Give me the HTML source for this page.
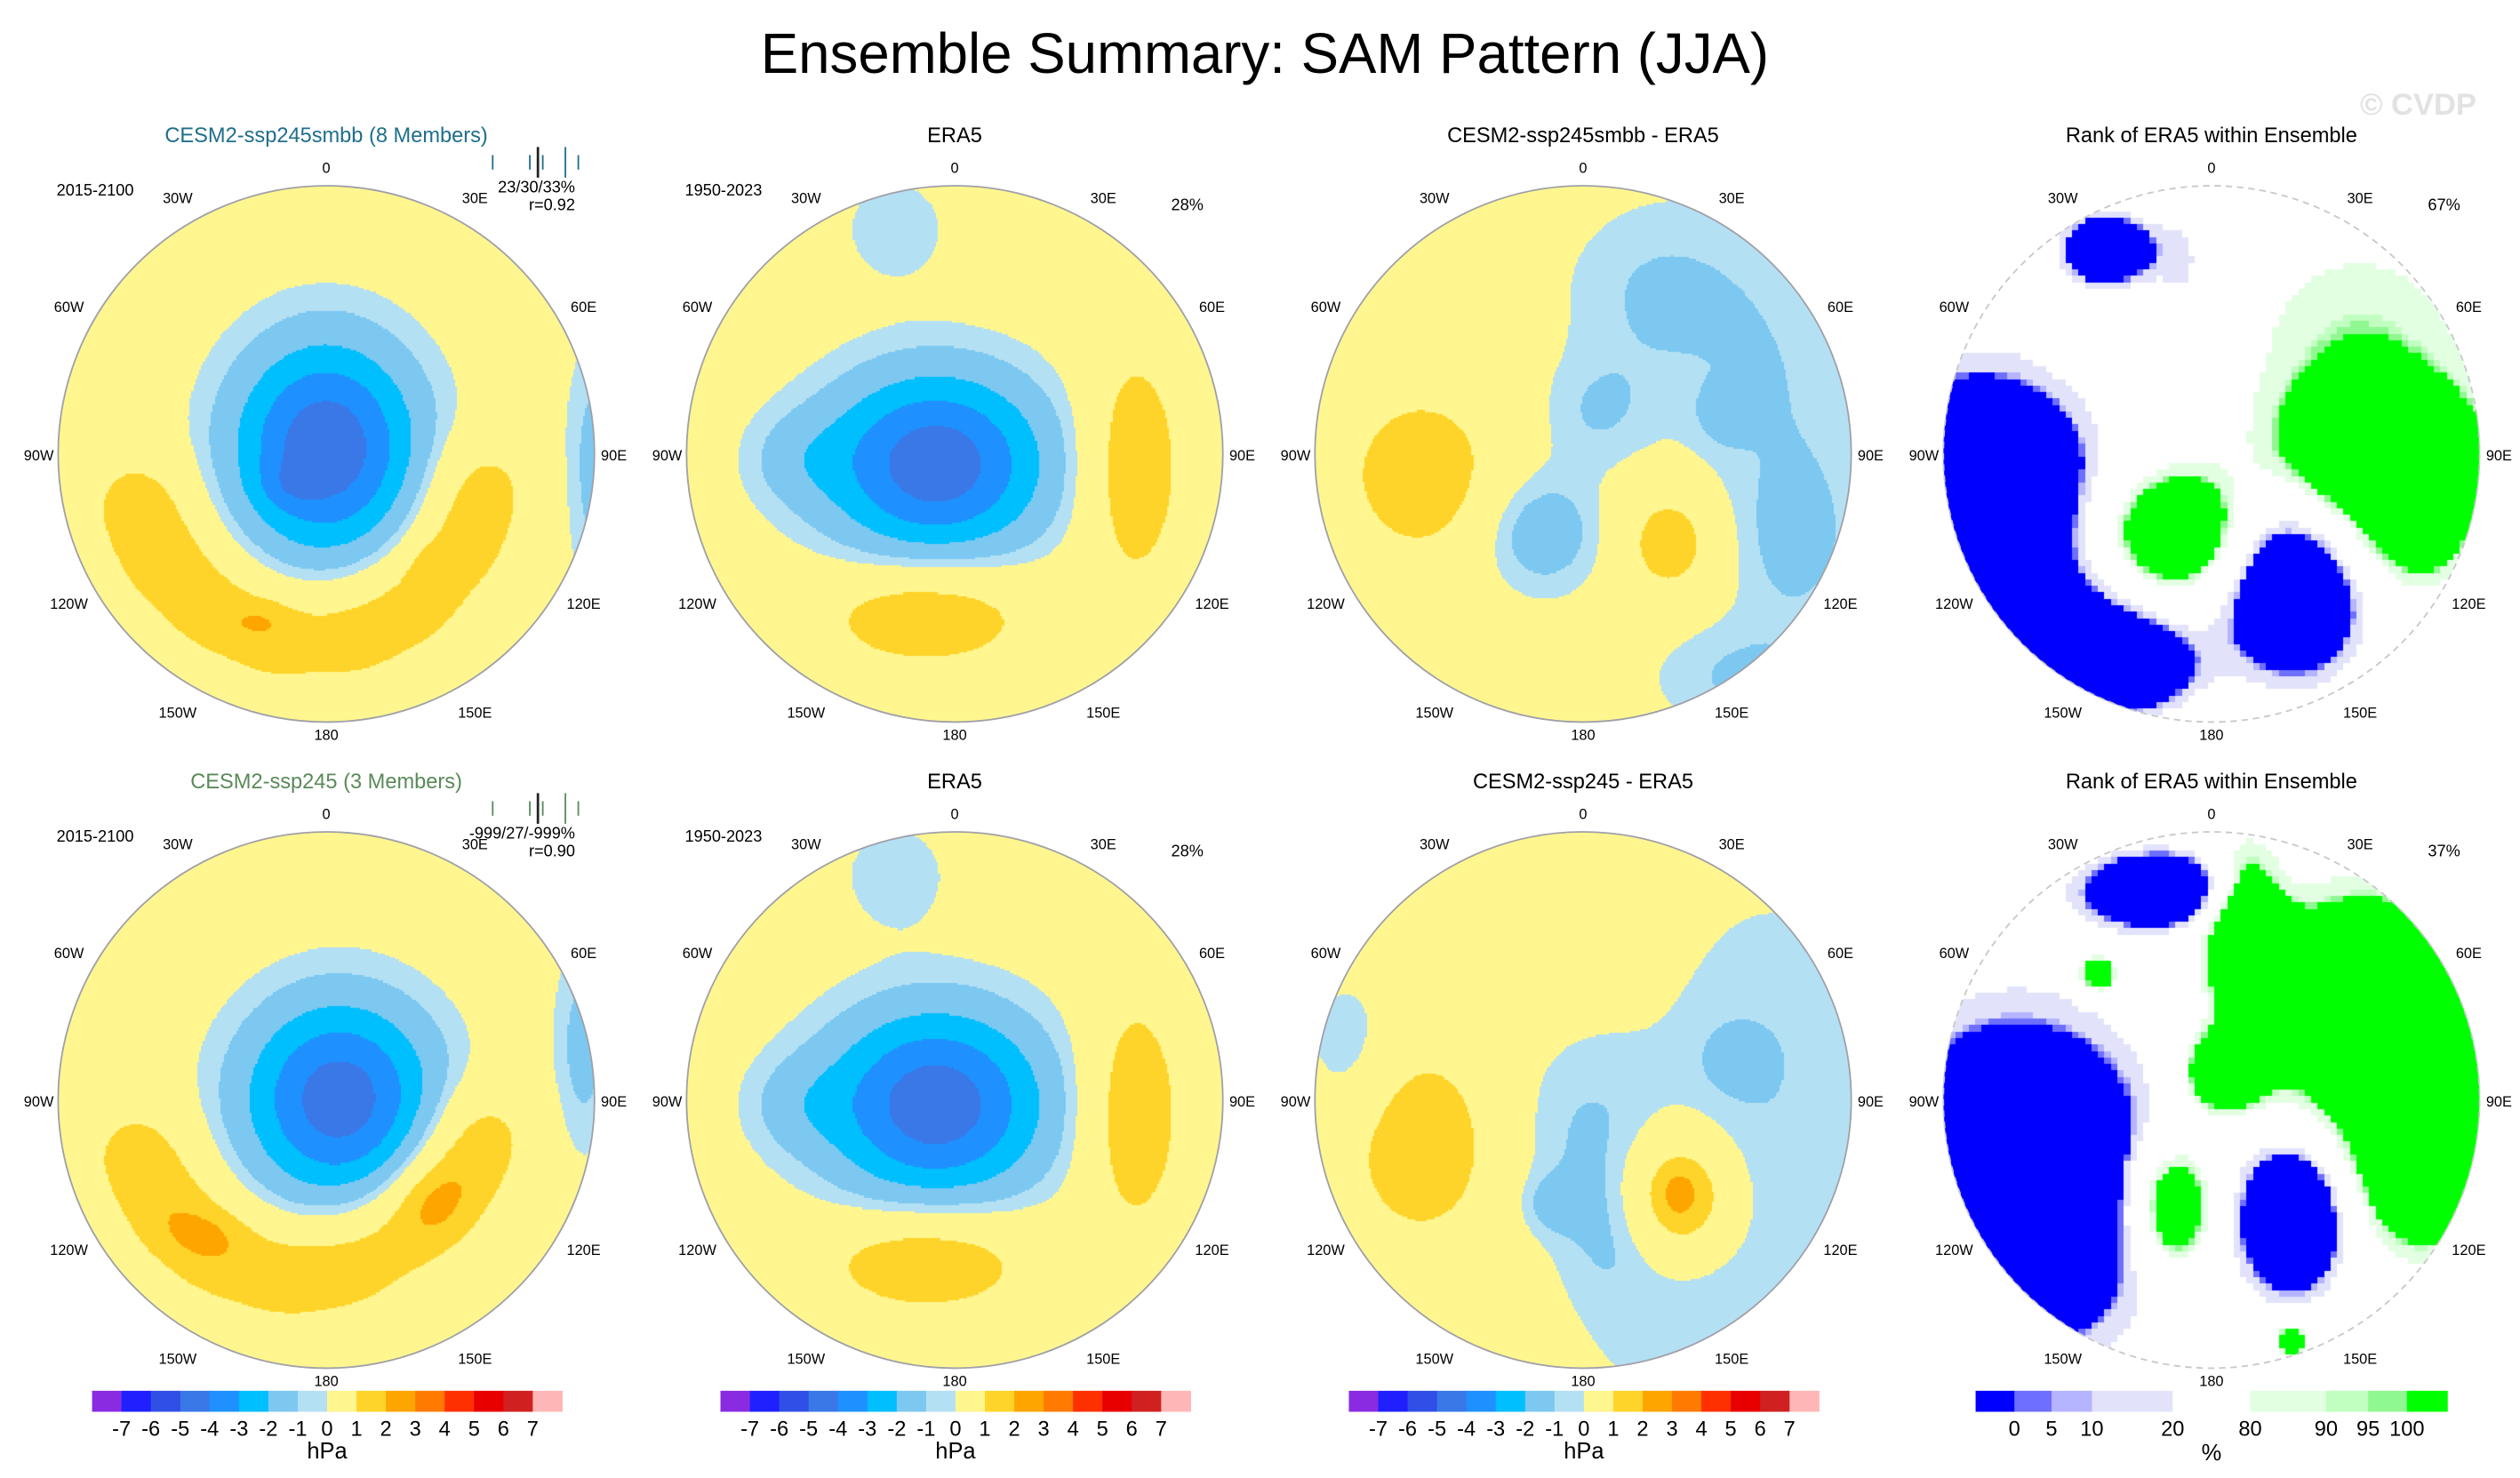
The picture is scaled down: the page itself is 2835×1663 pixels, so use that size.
<!DOCTYPE html>
<html><head><meta charset="utf-8">
<style>
html,body{margin:0;padding:0;background:#fff;}
#wrap{position:relative;width:2835px;height:1663px;overflow:hidden;}
canvas,svg{position:absolute;left:0;top:0;}
text{font-family:"Liberation Sans",sans-serif;}
</style></head>
<body>
<div id="wrap">
<canvas id="cv" width="2835" height="1663"></canvas>
<svg id="sv" width="2835" height="1663" viewBox="0 0 1560 915" preserveAspectRatio="none">
<text x="783" y="45" font-size="35" text-anchor="middle">Ensemble Summary: SAM Pattern (JJA)</text>
<text x="1497" y="71" font-size="19" font-weight="bold" fill="#e2e2e2" text-anchor="middle">© CVDP</text>
</svg>
</div>
<script>
// ---- data ----
const hpaLevels = [-7,-6,-5,-4,-3,-2,-1,0,1,2,3,4,5,6,7];
const contourEdges = [-7,-6,-5,-4,-3,-2,-1,-0.5,1,2,3,4,5,6,7];
const hpaColors = ["#8a2be2","#2020ff","#2f4fe6","#3a78e8","#1e90ff","#00bfff","#7cc8f0","#b4e0f4","#fff68f","#ffd42a","#ffa500","#ff7a00","#ff3000","#e80000","#d02020","#ffb6b6"];
const rankLabels = ["0","5","10","20","80","90","95","100"];
const rankBounds = [0,24,47,72,122,170,217,243,267,292];
const rankColors = ["#0000ff","#6e6eff","#b4b4ff","#e2e2fa","#ffffff","#e2ffe2","#c0ffc0","#90f890","#00ff00"];
const rankThresh = [-1.2,-1.15,-1.1,-0.8,0.8,1.1,1.15,1.2];
const panelCenterX = [202,591,980,1369];
const panelCenterY = [281,681];
const panelRadius = 166;
const panelTitles = [["CESM2-ssp245smbb (8 Members)","ERA5","CESM2-ssp245smbb - ERA5","Rank of ERA5 within Ensemble"],["CESM2-ssp245 (3 Members)","ERA5","CESM2-ssp245 - ERA5","Rank of ERA5 within Ensemble"]];
const titleColors = [["#1f6e8c","#000","#000","#000"],["#5a8a5a","#000","#000","#000"]];
// blobs: [dx, dy, sx, sy, amp] in radius units
const fieldP1 = [[0.0,-0.02,0.25,0.29,-4.8],[-0.14,0.12,0.08,0.06,-0.6],
 [-0.7,0.18,0.14,0.14,1.35],[-0.6,0.4,0.14,0.14,1.35],[-0.42,0.58,0.14,0.14,1.35],[-0.18,0.69,0.14,0.14,1.35],[0.1,0.68,0.14,0.14,1.35],[0.33,0.56,0.14,0.14,1.35],[0.5,0.35,0.14,0.14,1.35],[0.58,0.12,0.14,0.14,1.35],
 [-0.24,0.62,0.08,0.05,0.6],[0.38,0.45,0.05,0.08,0.6],[1.0,0.05,0.08,0.35,-1.3]];
const fieldP2 = [[-0.07,0.04,0.3,0.25,-4.7],[-0.6,0.02,0.14,0.13,-0.8],[-0.22,-0.84,0.14,0.14,-0.95],[0.67,0.05,0.13,0.32,1.9],[-0.1,0.6,0.28,0.14,2.05],[-0.14,0.58,0.03,0.03,0.3]];
const fieldP3 = [[0.75,-0.2,0.3,0.55,-0.95],[0.25,-0.6,0.25,0.25,-0.95],[0.05,-0.15,0.15,0.15,-0.9],[0.53,-0.14,0.08,0.08,-0.7],[-0.15,0.3,0.16,0.16,-1.6],[0.33,0.33,0.13,0.15,1.8],[-0.6,0.08,0.2,0.22,1.8],[0.6,0.84,0.25,0.15,-1.0],[0.8,0.35,0.15,0.2,-0.8]];
const fieldP4 = [[-0.39,-0.76,0.11,0.09,-3],[-0.85,0.14,0.3,0.32,-3],[0.31,0.48,0.19,0.25,-3],[-0.35,0.8,0.19,0.12,-3],[0.62,0.05,0.3,0.22,3],[-0.14,0.3,0.18,0.16,3],[0.55,-0.5,0.38,0.3,1.0],[0.75,0.35,0.15,0.15,1.0],[-0.5,0.6,0.25,0.15,-1.0],[-0.1,-0.7,0.1,0.2,-1.0]];
const fieldP5 = [[0.05,0.0,0.26,0.27,-4.6],
 [-0.7,0.2,0.14,0.14,1.35],[-0.58,0.42,0.14,0.14,1.35],[-0.4,0.58,0.14,0.14,1.35],[-0.15,0.66,0.14,0.14,1.35],[0.1,0.62,0.14,0.14,1.35],[0.32,0.48,0.14,0.14,1.35],[0.48,0.3,0.14,0.14,1.35],[0.58,0.12,0.14,0.14,1.35],
 [-0.45,0.5,0.1,0.06,0.6],[0.4,0.38,0.1,0.1,0.9],[0.96,-0.2,0.08,0.3,-1.3]];
const fieldP6 = [[-0.07,0.02,0.3,0.26,-4.7],[-0.6,0.02,0.14,0.13,-0.8],[-0.22,-0.84,0.14,0.14,-0.95],[0.67,0.05,0.13,0.32,1.9],[-0.1,0.6,0.28,0.14,2.05],[-0.14,0.58,0.03,0.03,0.3]];
const fieldP7 = [[0.7,0.1,0.35,0.7,-0.95],[-0.87,-0.19,0.12,0.2,-0.95],[0.0,0.1,0.2,0.25,-0.9],[0.1,0.5,0.15,0.2,-0.9],[-0.12,0.39,0.08,0.08,-0.9],[0.36,0.36,0.14,0.16,2.7],[0.36,0.35,0.04,0.05,0.9],[-0.6,0.17,0.2,0.26,1.8],[0.57,-0.16,0.1,0.1,-0.6],[0.4,0.9,0.3,0.2,-0.6]];
const fieldP8 = [[0.55,-0.35,0.3,0.3,3],[0.78,0.2,0.18,0.25,3],[0.12,-0.65,0.1,0.2,3],[0.05,-0.1,0.1,0.1,3],[-0.17,-0.78,0.21,0.1,-3],[-0.72,0.32,0.38,0.45,-3],[0.31,0.44,0.14,0.2,-3],[-0.14,0.4,0.11,0.17,3],[0.3,0.9,0.04,0.04,3],[-0.42,-0.47,0.05,0.05,3]];
const fields = [[fieldP1,fieldP2,fieldP3,fieldP4],[fieldP5,fieldP6,fieldP7,fieldP8]];
const periodText = [["2015-2100","1950-2023","",""],["2015-2100","1950-2023","",""]];
const pctText = [["","28%","","67%"],["","28%","","37%"]];
const statText = [["23/30/33%","r=0.92"],["-999/27/-999%","r=0.90"]];
const lonLabels = ["0","30E","60E","90E","120E","150E","180","150W","120W","90W","60W","30W"];

// ---- drawing ----
const S = 2835/1560;
const ctx = document.getElementById('cv').getContext('2d');
const svg = document.getElementById('sv');
const NS = "http://www.w3.org/2000/svg";
function field(bl, u, v){
  let s = 0;
  for (const b of bl){ const dx=(u-b[0])/b[2], dy=(v-b[1])/b[3]; s += b[4]*Math.exp(-0.5*(dx*dx+dy*dy)); }
  return s;
}
function hpaColor(val){
  let i=0; while(i<contourEdges.length && val>=contourEdges[i]) i++;
  return hpaColors[i];
}
function rankColor(val){
  let i=0; while(i<rankThresh.length && val>=rankThresh[i]) i++;
  return rankColors[i];
}
function txt(x,y,s,size,anchor,name,fill){
  const t=document.createElementNS(NS,'text');
  t.setAttribute('x',x);t.setAttribute('y',y);t.setAttribute('font-size',size);
  t.setAttribute('text-anchor',anchor||'middle');
  if(fill)t.setAttribute('fill',fill);
  t.textContent=s;
  
  
  svg.appendChild(t);return t;
}
for(let r=0;r<2;r++){
  for(let c=0;c<4;c++){
    const cx=panelCenterX[c], cy=panelCenterY[r], R=panelRadius;
    const isRank = c===3;
    const step = isRank?4:1.2;
    for(let y=cy-R;y<cy+R;y+=step){
      for(let x=cx-R;x<cx+R;x+=step){
        const u=(x+step/2-cx)/R, v=(y+step/2-cy)/R;
        if(u*u+v*v>1.02) continue;
        const val=field(fields[r][c],u,v);
        ctx.fillStyle = isRank?rankColor(val):hpaColor(val);
        ctx.fillRect(Math.floor(x*S),Math.floor(y*S),Math.ceil(step*S)+1,Math.ceil(step*S)+1);
      }
    }
    ctx.save();ctx.beginPath();ctx.rect(0,0,2835,1663);ctx.arc(cx*S,cy*S,R*S,0,Math.PI*2,true);ctx.clip();
    ctx.fillStyle='#fff';ctx.fillRect((cx-R-8)*S,(cy-R-8)*S,(2*R+16)*S,(2*R+16)*S);ctx.restore();
    const circ=document.createElementNS(NS,'circle');
    circ.setAttribute('cx',cx);circ.setAttribute('cy',cy);circ.setAttribute('r',R);
    circ.setAttribute('fill','none');circ.setAttribute('stroke',isRank?'#c8c8c8':'#a0a0a8');
    circ.setAttribute('stroke-width','1');
    if(isRank) circ.setAttribute('stroke-dasharray','4 3');
    
    
    svg.appendChild(circ);
    for(let k=0;k<12;k++){
      const a=k*30*Math.PI/180;
      const rr = (k===0)?R+12:(k===6?R+7:((k%3===0)?R+12:R+18));
      const lx=cx+Math.sin(a)*rr, ly=cy-Math.cos(a)*rr+4;
      txt(lx.toFixed(1),ly.toFixed(1),lonLabels[k],9,'middle','longitude-label');
    }
    txt(cx,cy-R-27,panelTitles[r][c],13,'middle','panel-title',titleColors[r][c]);
    if(periodText[r][c]) txt(cx-167,cy-160,periodText[r][c],10,'start','period-label');
    if(pctText[r][c]) txt(cx+144,cy-151,pctText[r][c],10,'middle','pattern-variance-label');
  }
  txt(356,panelCenterY[r]-162,statText[r][0],10,'end','ensemble-stat-label');
  txt(356,panelCenterY[r]-151,statText[r][1],10,'end','pattern-correlation-label');
  const tk=[305,328,333,336,350,358];
  for(let i=0;i<tk.length;i++){
    const l=document.createElementNS(NS,'line');
    const big = (i===2||i===4);
    l.setAttribute('x1',tk[i]);l.setAttribute('x2',tk[i]);
    l.setAttribute('y1',panelCenterY[r]-(big?190:185));l.setAttribute('y2',panelCenterY[r]-(big?171:176));
    l.setAttribute('stroke', i===2?'#222':(r===0?'#1f6e8c':'#5a8a5a'));l.setAttribute('stroke-width',i===2?1.5:1);
    
    
    svg.appendChild(l);
  }
}
// colorbars
const cbLeft=[57,446,835];
const cbW=291, cbY=861, cbH=13;
for(let c=0;c<3;c++){
  const bw=cbW/hpaColors.length;
  for(let i=0;i<hpaColors.length;i++){
    const rc=document.createElementNS(NS,'rect');
    rc.setAttribute('x',cbLeft[c]+i*bw);rc.setAttribute('y',cbY);rc.setAttribute('width',bw+0.3);rc.setAttribute('height',cbH);
    rc.setAttribute('fill',hpaColors[i]);
    
    
    svg.appendChild(rc);
  }
  for(let i=0;i<hpaLevels.length;i++){
    txt(cbLeft[c]+(i+1)*bw,cbY+28,String(hpaLevels[i]),13,'middle','colorbar-tick-label');
  }
  txt(cbLeft[c]+cbW/2,cbY+42,"hPa",14,'middle','colorbar-units');
}
{
  const x0=1223;
  for(let i=0;i<rankColors.length;i++){
    const rc=document.createElementNS(NS,'rect');
    rc.setAttribute('x',x0+rankBounds[i]);rc.setAttribute('y',cbY);
    rc.setAttribute('width',(rankBounds[i+1]-rankBounds[i])+0.3);rc.setAttribute('height',cbH);
    rc.setAttribute('fill',rankColors[i]);
    
    
    svg.appendChild(rc);
  }
  for(let i=0;i<rankLabels.length;i++){
    txt(x0+rankBounds[i+1],cbY+28,rankLabels[i],13,'middle','rank-colorbar-tick-label');
  }
  txt(x0+146,cbY+43,"%",14,'middle','rank-colorbar-units');
}
</script>
</body></html>
